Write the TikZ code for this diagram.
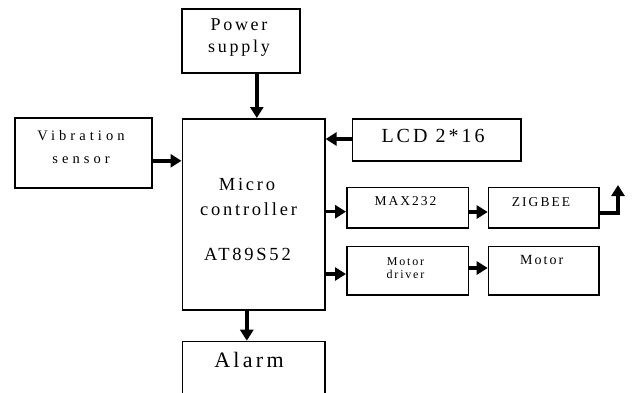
\documentclass[tikz,border=0pt]{standalone}
\usepackage{fontspec}
\setmainfont{Liberation Serif}
\newfontfamily\spfont[LetterSpace=15]{Liberation Serif}
\newfontfamily\wfont[LetterSpace=28]{Liberation Serif}
\usetikzlibrary{arrows.meta}
\begin{document}
\begin{tikzpicture}[x=1pt,y=-1pt,
  box/.style={draw=black, line width=1.6pt, rectangle, inner sep=0pt, anchor=north west, fill=white},
  lbl/.style={anchor=base, inner sep=0pt, text=black},
  arr/.style={line width=3.4pt, -{Triangle[length=11pt,width=13pt]}}]
\clip (0,0) rectangle (635,392);
\fill[white] (0,0) rectangle (635,392);
% boxes
\node[box, minimum width=118pt, minimum height=64pt] (power) at (181,8) {};
\node[box, minimum width=137pt, minimum height=70pt] (vib) at (14,117) {};
\node[box, minimum width=142.5pt, minimum height=191pt] (micro) at (181.5,118) {};
\node[box, minimum width=168.3pt, minimum height=42pt] (lcd) at (351.7,118) {};
\node[box, minimum width=121.5pt, minimum height=40.5pt] (max) at (346,186.5) {};
\node[box, minimum width=110.6pt, minimum height=40.5pt] (zig) at (487.7,186.5) {};
\node[box, minimum width=121.5pt, minimum height=48.5pt] (drv) at (346,245.5) {};
\node[box, minimum width=110.6pt, minimum height=48.5pt] (mot) at (487.7,245.5) {};
\node[box, minimum width=142.5pt, minimum height=70pt] (alarm) at (181.5,340.7) {};
% texts
\node[lbl] (tp1) at (239,30.7) {\spfont\fontsize{18}{20}\selectfont Power};
\node[lbl] (tp2) at (239,52) {\spfont\fontsize{18}{20}\selectfont supply};
\node[lbl] (tv1) at (81,140) {\wfont\fontsize{14.5}{16}\selectfont Vibration};
\node[lbl] (tv2) at (81,163) {\wfont\fontsize{14.5}{16}\selectfont sensor};
\node[lbl] (tm1) at (247,190.7) {\spfont\fontsize{18.5}{20}\selectfont Micro};
\node[lbl] (tm2) at (248.5,215) {\spfont\fontsize{18.5}{20}\selectfont controller};
\node[lbl] (tm3) at (247.5,260) {\spfont\fontsize{18.5}{20}\selectfont AT89S52};
\node[lbl] (tl) at (433,142.7) {\spfont\fontsize{20}{22}\selectfont LCD 2*16};
\node[lbl] (tx) at (405.5,205.7) {\spfont\fontsize{13.5}{15}\selectfont MAX232};
\node[lbl] (tz) at (541,206) {\spfont\fontsize{13.5}{15}\selectfont ZIGBEE};
\node[lbl] (td1) at (405.5,265) {\spfont\fontsize{12}{13}\selectfont Motor};
\node[lbl] (td2) at (405.5,278.3) {\spfont\fontsize{12}{13}\selectfont driver};
\node[lbl] (tmo) at (541.7,264) {\spfont\fontsize{14}{15}\selectfont Motor};
\node[lbl] (ta) at (249,367.7) {\spfont\fontsize{22}{24}\selectfont Alarm};
% connectors
\draw[arr] ([xshift=16pt]power.south) -- ([xshift=16pt]power.south |- micro.north);
\draw[arr] ([yshift=-8pt]vib.east) -- ([yshift=-8pt]vib.east -| micro.west);
\draw[arr] (lcd.west |- 0,139) -- (micro.east |- 0,139);
\draw[arr] (micro.east |- 0,211.7) -- (max.west |- 0,211.7);
\draw[arr] (max.east |- 0,212) -- (zig.west |- 0,212);
\draw[arr] (micro.east |- 0,274) -- (drv.west |- 0,274);
\draw[arr] (drv.east |- 0,268) -- (mot.west |- 0,268);
\draw[arr] ([xshift=-6.75pt]micro.south) -- ([xshift=-6.75pt]micro.south |- alarm.north);
\coordinate (ant) at (618,185);
\draw[arr] (zig.east |- 0,213) -- (ant |- 0,213) -- (ant);
\end{tikzpicture}
\end{document}
